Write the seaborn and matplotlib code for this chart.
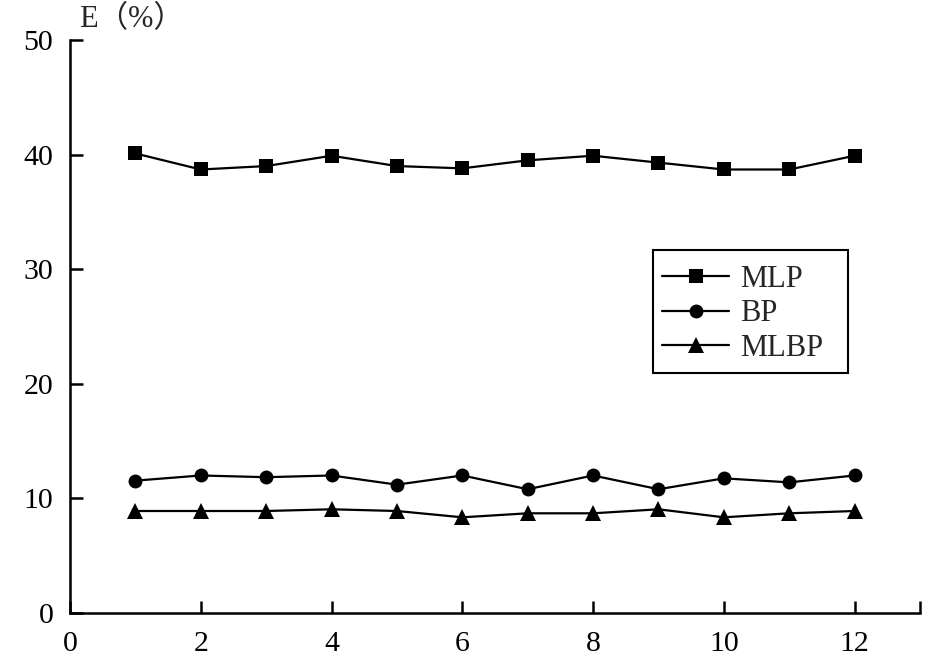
import matplotlib
matplotlib.use("Agg")
import matplotlib.pyplot as plt
import seaborn as sns
import pandas as pd
import numpy as np
from matplotlib.ticker import FixedLocator
from matplotlib.patches import Rectangle

x = list(range(1, 13))
mlp = [40.1, 38.7, 39.0, 39.9, 39.0, 38.8, 39.5, 39.9, 39.3, 38.7, 38.7, 39.9]
bp = [11.55, 12.0, 11.85, 12.0, 11.2, 12.0, 10.8, 12.0, 10.8, 11.75, 11.4, 12.0]
mlbp = [8.9, 8.9, 8.9, 9.05, 8.9, 8.35, 8.7, 8.7, 9.05, 8.35, 8.7, 8.9]
series_names = ["MLP", "BP", "MLBP"]
x_ticks = [0, 2, 4, 6, 8, 10, 12]
y_ticks = [0, 10, 20, 30, 40, 50]

df = pd.DataFrame({
    "x": x * 3,
    "E": mlp + bp + mlbp,
    "model": ["MLP"] * 12 + ["BP"] * 12 + ["MLBP"] * 12,
})

sns.set_theme(style="ticks")
plt.rcParams["font.family"] = ["Liberation Serif", "DejaVu Serif"]

W, H = 945, 664
fig = plt.figure(figsize=(9.45, 6.64), dpi=100)
ax = fig.add_axes([70 / W, 1 - 613 / H, 850 / W, 573 / H])

sns.lineplot(
    data=df, x="x", y="E", hue="model", style="model",
    hue_order=series_names, style_order=series_names,
    palette=["black"] * 3, markers=["s", "o", "^"], dashes=False,
    markersize=10, linewidth=1.6, markeredgewidth=0, ax=ax,
)

msize = {"s": 9.8, "o": 10.0, "^": 12.0}
for ln in ax.lines:
    m = ln.get_marker()
    if m in msize:
        ln.set_markersize(msize[m])
        ln.set_markeredgewidth(0)

ax.set_xlim(0, 13)
ax.set_ylim(0, 50)
ax.xaxis.set_major_locator(FixedLocator(x_ticks))
ax.xaxis.set_minor_locator(FixedLocator([13]))
ax.yaxis.set_major_locator(FixedLocator(y_ticks))
ax.tick_params(axis="both", which="both", direction="in", length=9, width=1.8,
               labelsize=21.5, colors="black")
ax.tick_params(axis="x", pad=13)
ax.tick_params(axis="y", pad=12)
for s in ["top", "right"]:
    ax.spines[s].set_visible(False)
for s in ["left", "bottom"]:
    ax.spines[s].set_linewidth(1.8)
    ax.spines[s].set_color("black")
ax.set_xlabel("")
ax.set_ylabel("")
fig.text(79 / W, 1 - 20 / H, "E（%）", fontsize=22, va="center", ha="left",
         family=["Liberation Serif", "Noto Sans CJK SC"])

handles, labels = ax.get_legend_handles_labels()
for h in handles:
    m = h.get_marker()
    if m in msize:
        h.set_markersize(msize[m])
        h.set_markeredgewidth(0)
    h.set_linewidth(1.6)
if ax.get_legend() is not None:
    ax.get_legend().remove()
leg = ax.legend(handles, labels, loc="upper left",
                bbox_to_anchor=((653 - 70) / 850, (613 - 256) / 573),
                borderaxespad=0, fontsize=22, frameon=False,
                handlelength=2.2, borderpad=0.3, labelspacing=0.17,
                handletextpad=0.35)

# legend frame box
fig.patches.append(Rectangle((653 / W, 1 - 373 / H), (848 - 653) / W, (373 - 250) / H,
                             transform=fig.transFigure, fill=False,
                             edgecolor="black", linewidth=1.5, zorder=5))

fig.savefig("out.png", dpi=100)
